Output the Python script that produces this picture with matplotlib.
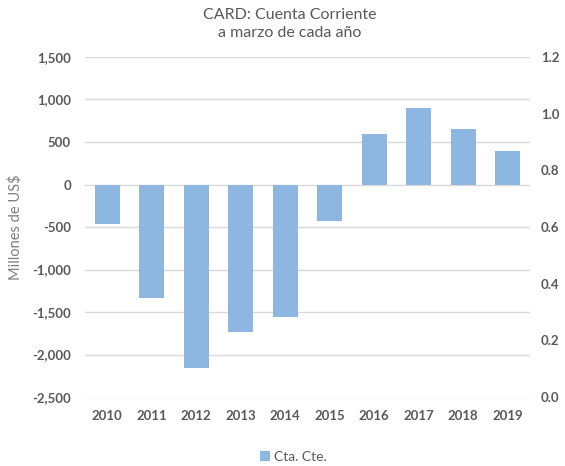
import numpy as np
import matplotlib
matplotlib.use("Agg")
import matplotlib.pyplot as plt
from matplotlib.ticker import FuncFormatter

# data
years = ["2010", "2011", "2012", "2013", "2014", "2015", "2016", "2017", "2018", "2019"]
cta_cte = [-470, -1330, -2160, -1730, -1560, -425, 595, 895, 650, 395]
left_ticks = [-2500, -2000, -1500, -1000, -500, 0, 500, 1000, 1500]
right_ticks = [0.0, 0.2, 0.4, 0.6, 0.8, 1.0, 1.2]

BAR = "#8DB6E1"
GRID = "#D9D9D9"
TXT = "#595959"

plt.rcParams["font.family"] = ["Lato", "DejaVu Sans"]

fig = plt.figure(figsize=(5.65, 4.66), dpi=100)
ax = fig.add_axes([0.1504, 0.148, 0.7876, 0.7297])

x = np.arange(len(years))
ax.bar(x, cta_cte, width=0.57, color=BAR, zorder=3, label="Cta. Cte.")
ax.set_xlim(-0.5, len(years) - 0.5)
ax.set_ylim(-2500, 1500)
ax.set_yticks(left_ticks)
ax.yaxis.set_major_formatter(FuncFormatter(lambda v, p: f"{int(v):,}"))
ax.set_xticks(x)
ax.set_xticklabels(years)
ax.grid(axis="y", color=GRID, linewidth=1, zorder=0)
for s in ax.spines.values():
    s.set_visible(False)
ax.tick_params(axis="both", length=0, colors=TXT, labelsize=9.5)
ax.tick_params(axis="y", pad=10)
ax.tick_params(axis="x", pad=9)
for lbl in ax.get_xticklabels() + ax.get_yticklabels():
    lbl.set_fontweight("bold")
ax.set_ylabel("Millones de US$", color="#7F7F7F", fontsize=10.5)
ax.yaxis.set_label_coords(-0.14, 0.5)

ax2 = ax.twinx()
ax2.set_ylim(0, 1.2)
ax2.set_yticks(right_ticks)
ax2.yaxis.set_major_formatter(FuncFormatter(lambda v, p: f"{v:.1f}"))
for s in ax2.spines.values():
    s.set_visible(False)
ax2.tick_params(axis="y", length=0, colors=TXT, labelsize=9.5, pad=8)
for lbl in ax2.get_yticklabels():
    lbl.set_fontweight("bold")

fig.text(0.512, 0.967, "CARD: Cuenta Corriente", ha="center", va="center",
         fontsize=11.5, color=TXT)
fig.text(0.512, 0.929, "a marzo de cada año", ha="center", va="center",
         fontsize=11.5, color=TXT)

fig.legend(handles=ax.patches[:1], labels=["Cta. Cte."], loc="center",
           bbox_to_anchor=(0.52, 0.02), frameon=False, fontsize=10,
           labelcolor=TXT, handlelength=0.7, handleheight=0.7, handletextpad=0.3)

fig.savefig("out.png", dpi=100)
